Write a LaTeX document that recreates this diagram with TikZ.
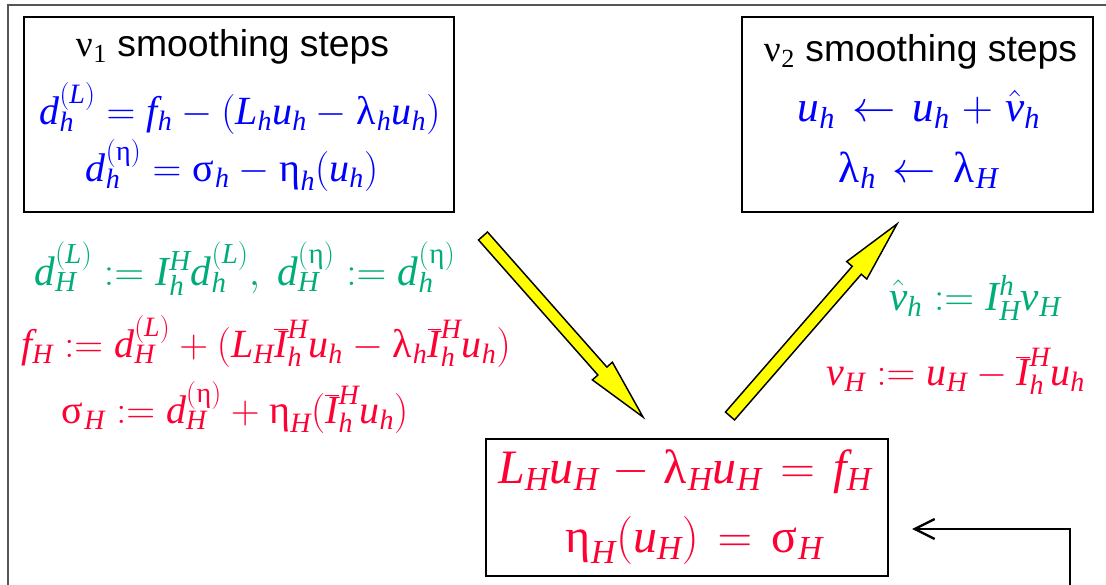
\RequirePackage{fix-cm}
\documentclass[tikz,border=0pt]{standalone}
\usepackage{mathspec}
\setmainfont{Liberation Serif}
\setsansfont{Liberation Sans}
\setmathsfont(Digits,Latin)[Scale=1]{Liberation Serif}
\setmathsfont(Greek)[Lowercase=Regular,Uppercase=Regular]{Liberation Serif}
\usetikzlibrary{calc,arrows.meta}
\definecolor{eqblue}{RGB}{0,0,255}
\definecolor{eqgreen}{RGB}{0,172,122}
\definecolor{eqred}{RGB}{255,0,51}
\definecolor{framegray}{RGB}{85,85,85}
\definecolor{arrowyellow}{RGB}{255,255,0}
\newcommand\fatarrow[2]{%
  \coordinate (hb) at ($(#2)!46pt!(#1)$);
  \draw[yarrow] ($(#1)!4.5pt!90:(#2)$) -- ($(hb)!4.5pt!90:(#2)$) -- ($(hb)!10pt!90:(#2)$) -- (#2)
     -- ($(hb)!10pt!-90:(#2)$) -- ($(hb)!4.5pt!-90:(#2)$) -- ($(#1)!4.5pt!-90:(#2)$) -- cycle;}
\newcommand\wide{\thickmuskip=7mu plus 2mu\medmuskip=5mu plus 2mu}
\begin{document}
\begin{tikzpicture}[x=0.75pt,y=-0.75pt,
  box/.style={draw=black,line width=1.5pt,inner sep=0pt},
  txt/.style={anchor=base,inner sep=0pt},
  ttl/.style={txt,font=\sffamily\fontsize{28}{33}\selectfont},
  eqs/.style={txt,font=\fontsize{30}{36}\selectfont},
  eqg/.style={txt,font=\fontsize{31}{36}\selectfont},
  eqm/.style={txt,font=\fontsize{32.5}{38}\selectfont\wide},
  eqb/.style={txt,font=\fontsize{36}{42}\selectfont\wide},
  yarrow/.style={draw=black,line width=1.1pt,fill=arrowyellow,line join=miter},
  frame/.style={draw=framegray,line width=1.5pt},
  back/.style={draw=black,line width=1.8pt,-{Straight Barb[length=15pt,width=15pt,line width=1.8pt]}}]
\useasboundingbox (0,0) rectangle (1106,585);
% outer frame
\coordinate (fTL) at (8,5);
\coordinate (fTR) at (1106,5);
\coordinate (fBL) at (8,585);
\draw[frame] (fBL) -- (fTL) -- (fTR);
% boxes
\node[box,minimum width=430*0.75pt,minimum height=195*0.75pt] (b1) at (239,114.5) {};
\node[box,minimum width=351*0.75pt,minimum height=195*0.75pt] (b2) at (917.5,114.5) {};
\node[box,minimum width=402*0.75pt,minimum height=137*0.75pt] (b3) at (687,507.5) {};
% box 1 text
\node[ttl] (t1) at (232,57) {$\nu_1$ smoothing steps};
\node[eqs,text=eqblue] (e1a) at (240,124) {$d_h^{(L)} = f_h - (L_h u_h - \lambda_h u_h)$};
\node[eqs,text=eqblue] (e1b) at (232,181) {$d_h^{(\eta)} = \sigma_h - \eta_h(u_h)$};
% box 2 text
\node[ttl] (t2) at (920,62) {$\nu_2$ smoothing steps};
\node[eqm,text=eqblue] (e2a) at (919,122) {$u_h \leftarrow u_h + \hat{v}_h$};
\node[eqm,text=eqblue] (e2b) at (918,182) {$\lambda_h \leftarrow \lambda_H$};
% left texts
\node[eqg,text=eqgreen] (g1) at (245,285) {$d_H^{(L)} := I_h^H d_h^{(L)},\ d_H^{(\eta)} := d_h^{(\eta)}$};
\node[eqs,text=eqred] (r1) at (266,357) {$f_H := d_H^{(L)} + (L_H \overline{I}_h^H u_h - \lambda_h \overline{I}_h^H u_h)$};
\node[eqs,text=eqred] (r2) at (235,423) {$\sigma_H := d_H^{(\eta)} + \eta_H(\overline{I}_h^H u_h)$};
% right texts
\node[eqg,text=eqgreen] (g2) at (975,310) {$\hat{v}_h := I_H^h v_H$};
\node[eqs,text=eqred] (r3) at (956,385) {$v_H := u_H - \overline{I}_h^H u_h$};
% box 3 text
\node[eqb,text=eqred] (e3a) at (685,483) {$L_H u_H - \lambda_H u_H = f_H$};
\node[eqb,text=eqred] (e3b) at (694,552) {$\eta_H(u_H) = \sigma_H$};
% yellow arrows
\coordinate (a1s) at (483,236);
\coordinate (a1e) at (643,417);
\coordinate (a2s) at (730,416);
\coordinate (a2e) at (897,224);
\fatarrow{a1s}{a1e}
\fatarrow{a2s}{a2e}
% return arrow
\coordinate (rs) at (1070,585);
\coordinate (re) at (912,529);
\draw[back] (rs) |- (re);
\end{tikzpicture}
\end{document}
